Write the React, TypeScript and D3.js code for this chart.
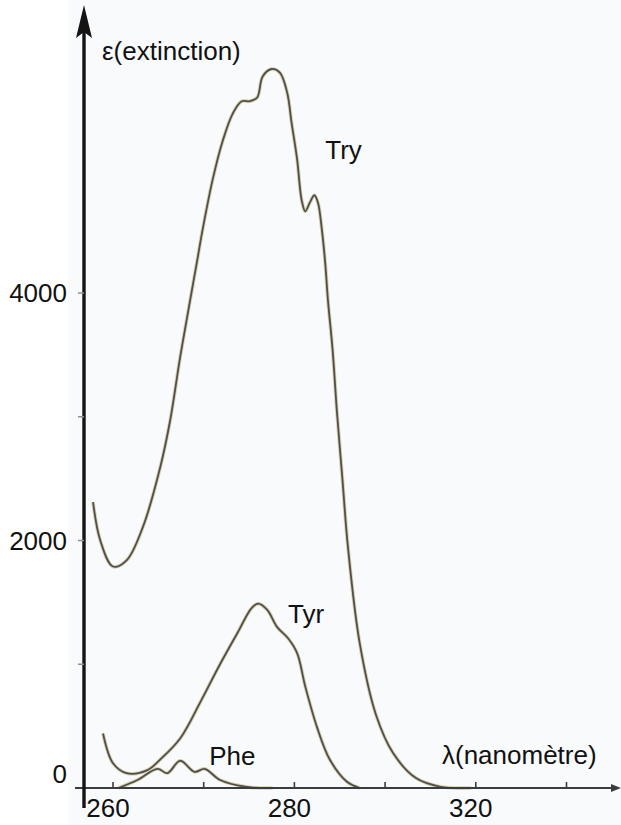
import React, { useEffect, useRef } from 'react';
import * as d3 from 'd3';

// Absorption spectra of aromatic amino acids
const tryWavelength = [257.8, 258.6, 260.0, 261.5, 263.3, 265.2, 266.3, 267.4, 268.5, 269.3, 269.9, 271.0, 272.1, 273.2, 274.2, 275.1, 275.9, 276.5, 277.5, 278.4, 279.2, 279.7, 280.3, 280.8, 281.2, 281.7, 282.2, 282.6, 283.0, 283.4, 283.7, 284.2, 284.7, 285.3, 285.9, 287.2, 289.0, 290.9, 293.4, 296.1, 299.5];
const tryExtinction = [2310, 2000, 1790, 1840, 2110, 2590, 2970, 3480, 3940, 4270, 4520, 4920, 5230, 5450, 5550, 5550, 5580, 5750, 5810, 5780, 5620, 5370, 5080, 4750, 4660, 4730, 4790, 4730, 4530, 4240, 3940, 3550, 3030, 2490, 1950, 1170, 590, 280, 80, 10, 0];

const tyrWavelength = [258.9, 260.0, 261.5, 263.8, 265.2, 267.4, 269.6, 271.8, 273.7, 275.3, 276.0, 277.0, 278.1, 279.3, 280.3, 281.2, 282.5, 283.9, 285.8, 287.2];
const tyrExtinction = [440, 200, 120, 145, 230, 400, 690, 1000, 1250, 1455, 1490, 1440, 1300, 1210, 1090, 820, 490, 230, 50, 0];

const pheWavelength = [260.6, 262.7, 264.9, 266.0, 267.4, 269.0, 270.1, 271.8, 274.8, 277.6];
const pheExtinction = [0, 65, 155, 120, 220, 130, 155, 65, 8, 0];

const xTicks = [260, 270, 280, 290, 300, 310];
const xTickLabels = ['260', '', '280', '', '320', ''];
const yTicks = [1000, 2000, 3000, 4000];
const yTickLabels = ['0', '2000', '4000'];
const yLabelValues = [0, 2000, 4000];

const curves = [
  { name: 'Try', x: tryWavelength, y: tryExtinction, labelAt: [283.4, 5080] },
  { name: 'Tyr', x: tyrWavelength, y: tyrExtinction, labelAt: [279.3, 1330] },
  { name: 'Phe', x: pheWavelength, y: pheExtinction, labelAt: [270.6, 185] },
];

const W = 621;
const H = 825;
const FONT = '"Liberation Sans", Arial, Helvetica, sans-serif';

const App: React.FC = () => {
  const svgRef = useRef<SVGSVGElement>(null);

  useEffect(() => {
    if (!svgRef.current) return;
    const svg = d3.select(svgRef.current);
    svg.selectAll('*').remove();

    const xScale = d3.scaleLinear().domain([260, 310]).range([113, 566.5]);
    const yScale = d3.scaleLinear().domain([0, 4000]).range([788, 293]);

    const axisX = 84;
    const baseY = yScale(0);

    // scanned plot area background
    svg.append('rect')
      .attr('x', 68).attr('y', 0)
      .attr('width', W - 68).attr('height', H)
      .attr('fill', '#f8fafc');

    // curves (smooth hand-drawn look)
    const line = d3.line<[number, number]>()
      .x(d => xScale(d[0]))
      .y(d => Math.min(yScale(d[1]), baseY))
      .curve(d3.curveCatmullRom.alpha(0.5));

    curves.forEach(c => {
      const pts: [number, number][] = c.x.map((v, i) => [v, c.y[i]]);
      svg.append('path')
        .datum(pts)
        .attr('fill', 'none')
        .attr('stroke', '#d8cfb2')
        .attr('stroke-width', 3.6)
        .attr('stroke-linejoin', 'round')
        .attr('d', line);
      svg.append('path')
        .datum(pts)
        .attr('fill', 'none')
        .attr('stroke', '#4f5049')
        .attr('stroke-width', 1.8)
        .attr('stroke-linejoin', 'round')
        .attr('d', line);
    });

    // x axis
    svg.append('line')
      .attr('x1', 75).attr('x2', W - 3)
      .attr('y1', baseY).attr('y2', baseY)
      .attr('stroke', '#3a3d40')
      .attr('stroke-width', 2);
    svg.append('path')
      .attr('d', `M${W - 10},${baseY - 4}L${W},${baseY}L${W - 10},${baseY + 4}Z`)
      .attr('fill', '#3a3d40');

    svg.selectAll('.x-tick')
      .data(xTicks)
      .enter()
      .append('line')
      .attr('class', 'x-tick')
      .attr('x1', d => xScale(d)).attr('x2', d => xScale(d))
      .attr('y1', baseY - 6).attr('y2', baseY)
      .attr('stroke', '#3a3d40')
      .attr('stroke-width', 1.6);

    svg.selectAll('.x-label')
      .data(xTicks)
      .enter()
      .append('text')
      .attr('class', 'x-label')
      .attr('x', d => xScale(d) - 5)
      .attr('y', 817)
      .attr('text-anchor', 'middle')
      .style('font-family', FONT)
      .style('font-size', '26px')
      .attr('fill', '#111')
      .text((_, i) => xTickLabels[i]);

    // y axis with arrow
    svg.append('line')
      .attr('x1', axisX).attr('x2', axisX)
      .attr('y1', 30).attr('y2', 808)
      .attr('stroke', '#141414')
      .attr('stroke-width', 3.4);
    svg.append('path')
      .attr('d', `M${axisX},5L${axisX + 8},38L${axisX},32L${axisX - 8},38Z`)
      .attr('fill', '#141414');

    svg.selectAll('.y-tick')
      .data(yTicks)
      .enter()
      .append('line')
      .attr('class', 'y-tick')
      .attr('x1', axisX - 6).attr('x2', axisX)
      .attr('y1', d => yScale(d)).attr('y2', d => yScale(d))
      .attr('stroke', '#8a9098')
      .attr('stroke-width', 1.5);

    svg.selectAll('.y-label')
      .data(yLabelValues)
      .enter()
      .append('text')
      .attr('class', 'y-label')
      .attr('x', 67)
      .attr('y', d => yScale(d) + (d === 0 ? -5 : 9))
      .attr('text-anchor', 'end')
      .style('font-family', FONT)
      .style('font-size', '26px')
      .attr('fill', '#111')
      .text((_, i) => yTickLabels[i]);

    // axis titles
    svg.append('text')
      .attr('x', 102).attr('y', 60)
      .style('font-family', FONT)
      .style('font-size', '26px')
      .attr('fill', '#111')
      .text('ε(extinction)');

    svg.append('text')
      .attr('x', 442).attr('y', 764)
      .style('font-family', FONT)
      .style('font-size', '26px')
      .attr('fill', '#111')
      .text('λ(nanomètre)');

    // curve labels
    curves.forEach(c => {
      svg.append('text')
        .attr('x', xScale(c.labelAt[0]))
        .attr('y', yScale(c.labelAt[1]))
        .style('font-family', FONT)
        .style('font-size', '26px')
        .attr('fill', '#111')
        .text(c.name);
    });
  }, []);

  return (
    <svg
      ref={svgRef}
      width={W}
      height={H}
      style={{ position: 'absolute', left: 0, top: 0, display: 'block', background: '#fff' }}
    />
  );
};

export default App;
